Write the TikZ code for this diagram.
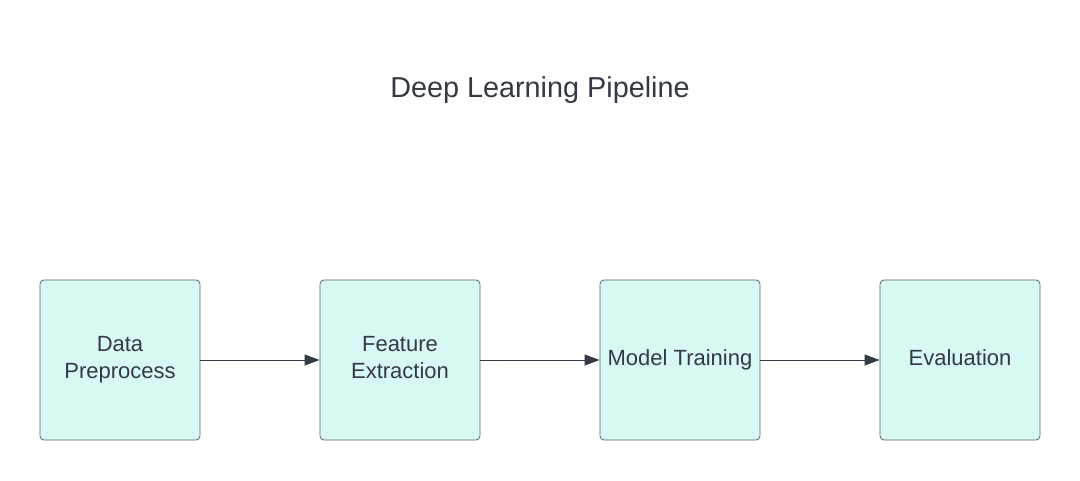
\documentclass[tikz,border=0pt]{standalone}
\usepackage{fontspec}
\setmainfont{Liberation Sans}
\usetikzlibrary{arrows.meta}
\definecolor{boxfill}{HTML}{D8F8F3}
\definecolor{boxline}{HTML}{5E6470}
\definecolor{ink}{HTML}{333A45}
\newcommand\boxtext[1]{\raisebox{4pt}{\begin{tabular}{@{}c@{}}#1\end{tabular}}}
\tikzset{
  stage/.style={draw=boxline, fill=boxfill, line width=0.8pt, rounded corners=4pt,
    minimum width=160pt, minimum height=160pt, inner sep=0pt,
    text=ink, font=\fontsize{22}{27}\selectfont},
  flow/.style={draw=ink, line width=0.8pt, -{Triangle[length=15pt,width=11pt]}}
}
\begin{document}
\begin{tikzpicture}[x=1pt,y=1pt]
\useasboundingbox (0,0) rectangle (1080,480);
\node[text=ink, font=\fontsize{28.8}{34}\selectfont] (title) at (540,390) {Deep Learning Pipeline};
\node[stage] (a) at (120,120) {\boxtext{Data\\Preprocess}};
\node[stage] (b) at (400,120) {\boxtext{Feature\\Extraction}};
\node[stage] (c) at (680,120) {\boxtext{Model Training}};
\node[stage] (d) at (960,120) {\boxtext{Evaluation}};
\draw[flow] (a) -- (b);
\draw[flow] (b) -- (c);
\draw[flow] (c) -- (d);
\end{tikzpicture}
\end{document}
